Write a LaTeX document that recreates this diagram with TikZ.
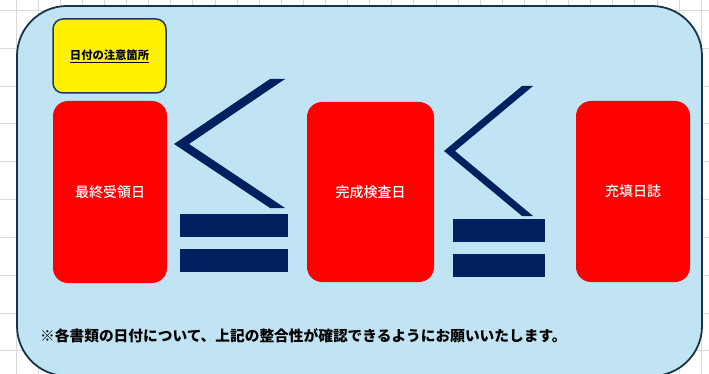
\documentclass[tikz,border=0pt]{standalone}
\usepackage{fontspec}
\newfontfamily\jp{Noto Sans CJK JP}
\newfontfamily\jpm{Noto Sans CJK JP}[UprightFont=* Medium]
\definecolor{gridgray}{RGB}{217,217,217}
\definecolor{panelfill}{RGB}{192,228,244}
\definecolor{panelborder}{RGB}{24,52,70}
\definecolor{navy}{RGB}{0,32,96}
\definecolor{yborder}{RGB}{31,56,100}
\tikzset{
  redbox/.style={fill=red, draw=none, rounded corners=15pt, inner sep=0pt, text=white, font=\jpm\fontsize{14}{16}\selectfont},
  labelbox/.style={fill=yellow, draw=yborder, line width=1.5pt, rounded corners=10pt, inner sep=0pt, font=\jp\bfseries\fontsize{11.3}{13}\selectfont},
  bar/.style={fill=navy, draw=none},
}
\begin{document}
\begin{tikzpicture}[x=1pt,y=-1pt]
\useasboundingbox (0,0) rectangle (709,374);
% spreadsheet grid
\foreach \i in {0,...,31} {\draw[gridgray, line width=0.8pt] ({16+22.1*\i},0) -- ({16+22.1*\i},374);}
\foreach \j in {0,...,9} {\draw[gridgray, line width=0.8pt] (0,{10.5+37.8*\j}) -- (709,{10.5+37.8*\j});}
% panel
\draw[fill=panelfill, draw=panelborder, line width=1.8pt, rounded corners=50pt] (17,6) rectangle (702,376);
% label box
\node[labelbox, minimum width=113pt, minimum height=74pt] (lbl) at (109.5,56) {\underline{日付の注意箇所}};
% red boxes
\node[redbox, minimum width=114pt, minimum height=182pt] (d1) at (110,192) {最終受領日};
\node[redbox, minimum width=127pt, minimum height=180pt] (d2) at (370.5,192) {完成検査日};
\node[redbox, minimum width=114pt, minimum height=181pt] (d3) at (633,191.5) {充填日誌};
% first less-or-equal sign
\fill[navy] (174,144) -- (270,79) -- (285,79) -- (189,144) -- (285,208) -- (270,208) -- cycle;
\fill[bar] (180,214) rectangle (288,237);
\fill[bar] (180,249) rectangle (288,272);
% second less-or-equal sign
\fill[navy] (444,151) -- (522,86) -- (533,86) -- (455,151) -- (533,216) -- (522,216) -- cycle;
\fill[bar] (453,219) rectangle (545,242);
\fill[bar] (453,254) rectangle (545,277);
% note
\node[anchor=west, inner sep=0pt, font=\jp\bfseries\fontsize{14.7}{17}\selectfont] (note) at (40,336) {※各書類の日付について、上記の整合性が確認できるようにお願いいたします。};
\end{tikzpicture}
\end{document}
